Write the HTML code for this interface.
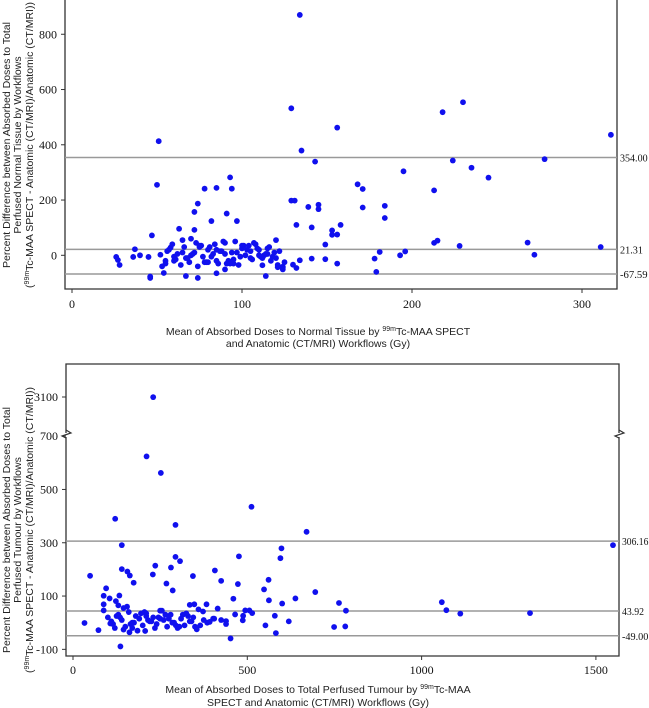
<!DOCTYPE html>
<html><head><meta charset="utf-8">
<style>
html,body{margin:0;padding:0;background:#fff;}
svg{display:block;}
.tk{font-family:"Liberation Serif",serif;font-size:12px;fill:#111;}
.rl{font-family:"Liberation Serif",serif;font-size:11px;fill:#111;}
.tt{font-family:"Liberation Sans",sans-serif;font-size:10.5px;fill:#222;}
</style></head>
<body>
<svg id="c" width="649" height="708" viewBox="0 0 649 708"></svg>
<script>
// ---------- Top chart data (Normal tissue) ----------
const topX = [134,129,230,218,156,51,317,135,143,224,278,235,195,245,93,50,168,171,78,85,94,213,129,131,145,145,184,139,171,74,72,91,184,82,97,132,158,141,63,72,153,153,156,47,268,213,215,149,311,228,181,196,193,272,178,179,156,149,114,74,46,46,67,85,54,124,124,121,90,132,130,134,141,112,26,28,27,36,37,40,45,
52,55,56,58,60,62,64,66,68,70,72,74,76,78,80,82,84,86,88,90,92,94,96,98,100,102,104,106,108,110,112,114,116,118,120,122,124,53,57,61,65,69,73,77,81,85,89,93,97,101,105,109,113,117,121,125,59,67,75,83,91,99,107,115,71,79,87,95,103,111,119,
55,60,65,70,75,80,85,90,95,100,105,110,115,120,125];
const topY = [870,532,554,518,462,413,436,379,339,343,348,317,304,281,282,255,257,240,241,244,241,235,198,198,183,167,179,175,173,187,157,151,135,124,124,110,110,101,96,92,90,74,75,72,46,45,53,39,30,34,12,14,0,2,-12,-60,-30,-14,-75,-82,-77,-82,-75,-65,-64,-51,-41,-43,-51,-46,-34,-18,-12,-36,-6,-35,-17,-6,22,0,-6,
2,-30,15,28,-20,5,-35,30,-10,60,10,-40,35,-25,20,-5,40,-30,15,45,-20,10,50,-35,25,0,35,-15,40,20,-10,5,30,-5,55,15,-45,-40,20,-15,10,-25,45,-5,30,-20,50,-30,10,35,-10,25,0,-20,-35,-25,40,-10,30,5,-30,-5,45,25,5,-25,15,-15,20,-5,
10,-20,-5,55,0,35,-25,20,5,-30,35,15,0,5,-10];
const topYTicks = [0,200,400,600,800];
const topXTicks = [0,100,200,300];
const topLines = [354.00,21.31,-67.59];
const topLineLabels = ["354.00","21.31","-67.59"];

// ---------- Bottom chart data (Tumour) ----------
const botX = [230,211,252,512,121,294,670,1549,140,598,476,294,595,307,236,281,140,156,163,49,344,229,407,174,561,425,268,473,548,286,695,95,133,88,105,638,460,562,123,763,600,1058,619,1071,1111,1311,783,781,749,582,452,136,162,107,33,73,145,207,335,88,88,348,383,465,487,488,439,439,392,402,373,415,506,514,494,579,552,
100,110,120,130,140,150,160,170,180,190,200,210,220,230,240,250,260,270,280,290,300,310,320,330,340,350,360,115,135,155,175,195,215,235,255,275,295,315,335,355,375,125,165,205,245,285,325,365,405,145,185,225,265,305,345,385,425,130,170,210,250,290];
const botY = [3090,624,562,435,390,367,341,291,291,279,249,247,242,231,214,207,201,192,177,176,175,181,196,150,161,157,147,145,125,121,115,129,102,101,91,91,90,84,81,74,72,77,5,47,34,36,45,-14,-16,-39,-59,-89,-36,-3,-1,-28,-26,-31,67,46,69,69,69,31,9,26,6,-5,3,15,42,53,46,36,46,26,
-10,20,5,-20,30,10,-15,40,0,25,15,-10,35,5,20,-5,45,10,-15,30,0,-20,15,-10,25,5,-15,50,-5,20,60,0,35,10,-20,45,15,-10,30,5,-25,10,25,-5,40,20,0,35,-10,15,55,-30,5,30,-15,20,0,10,65,-20,25,15];
const botYTicks = [-100,100,300,500,700];
const botYTicksHigh = [3100];
const botXTicks = [0,500,1000,1500];
const botLines = [306.16,43.92,-49.00];
const botLineLabels = ["306.16","43.92","-49.00"];

const NS="http://www.w3.org/2000/svg";
const svg=document.getElementById('c');
function mk(tag,attrs,parent){const e=document.createElementNS(NS,tag);for(const k in attrs)e.setAttribute(k,attrs[k]);(parent||svg).appendChild(e);return e;}

const tx=v=>72+v*1.70, ty=v=>255.3-v*0.2763;
const bx=v=>73+v*0.3486, by=v=>v<=700?(622.7-v*0.2665):(435-(v-700)*(38/2400));

// ===== TOP CHART =====
const g1=mk('g',{});


const f1=mk('path',{d:'M65,0 V289 H617 V0',fill:'none',stroke:'#333','stroke-width':1.3},g1);


topYTicks.forEach(v=>{
  const y=ty(v);
  const l=mk('line',{x1:61,x2:65,y1:y,y2:y,stroke:'#333'},g1);
  
  
  const t=mk('text',{x:57,y:y+4,'text-anchor':'end',class:'tk'},g1);t.textContent=v;
  
  
});
topXTicks.forEach(v=>{
  const x=tx(v);
  const l=mk('line',{x1:x,x2:x,y1:289,y2:293,stroke:'#333'},g1);
  
  
  const t=mk('text',{x:x,y:308,'text-anchor':'middle',class:'tk'},g1);t.textContent=v;
  
  
});
topLines.forEach((v,i)=>{
  const y=ty(v);
  const l=mk('line',{x1:65,x2:617,y1:y,y2:y,stroke:'#999','stroke-width':1.5},g1);
  
  
  const t=mk('text',{x:620,y:y+4,class:'rl',textLength:topLineLabels[i].length*4.6,lengthAdjust:'spacingAndGlyphs'},g1);t.textContent=topLineLabels[i];
  
  
});
const nTop=Math.min(topX.length,topY.length);
for(let i=0;i<nTop;i++){
  const c=mk('circle',{cx:tx(topX[i]),cy:ty(topY[i]),r:2.9,fill:'#1010ee'},g1);
  
  
}

// ===== BOTTOM CHART =====
const g2=mk('g',{});


const f2=mk('path',{d:'M66,437 V656 H619 V437 M619,433 V364 H66 V433',fill:'none',stroke:'#333','stroke-width':1.3},g2);


[66,619].forEach(x=>{
  const b=mk('path',{d:`M${x},430 l5,3 l-9,3 l4,2`,fill:'none',stroke:'#333','stroke-width':1.2},g2);
  
  
});
botYTicks.concat(botYTicksHigh).forEach(v=>{
  const y=by(v);
  const l=mk('line',{x1:62,x2:66,y1:y,y2:y,stroke:'#333'},g2);
  
  
  const t=mk('text',{x:58,y:y+4,'text-anchor':'end',class:'tk'},g2);t.textContent=v;
  
  
});
botXTicks.forEach(v=>{
  const x=bx(v);
  const l=mk('line',{x1:x,x2:x,y1:656,y2:660,stroke:'#333'},g2);
  
  
  const t=mk('text',{x:x,y:674,'text-anchor':'middle',class:'tk'},g2);t.textContent=v;
  
  
});
botLines.forEach((v,i)=>{
  const y=by(v);
  const l=mk('line',{x1:66,x2:619,y1:y,y2:y,stroke:'#999','stroke-width':1.5},g2);
  
  
  const t=mk('text',{x:622,y:y+4,class:'rl',textLength:botLineLabels[i].length*4.4,lengthAdjust:'spacingAndGlyphs'},g2);t.textContent=botLineLabels[i];
  
  
});
const nBot=Math.min(botX.length,botY.length);
for(let i=0;i<nBot;i++){
  const c=mk('circle',{cx:bx(botX[i]),cy:by(botY[i]),r:2.9,fill:'#1010ee'},g2);
  
  
}
</script>
<svg width="649" height="708" style="position:absolute;left:0;top:0">
 <g>
  <text x="318" y="335" text-anchor="middle" class="tt">Mean of Absorbed Doses to Normal Tissue by <tspan font-size="7" dy="-4">99m</tspan><tspan dy="4">Tc-MAA SPECT</tspan></text>
  <text x="318" y="347" text-anchor="middle" class="tt">and Anatomic (CT/MRI) Workflows (Gy)</text>
 </g>
 <g transform="translate(0,145) rotate(-90)">
  <text x="0" y="10" text-anchor="middle" class="tt">Percent Difference between Absorbed Doses to Total</text>
  <text x="0" y="21" text-anchor="middle" class="tt">Perfused Normal Tissue by Workflows</text>
  <text x="0" y="33" text-anchor="middle" class="tt">(<tspan font-size="7" dy="-4">99m</tspan><tspan dy="4">Tc-MAA SPECT - Anatomic (CT/MRI)/Anatomic (CT/MRI))</tspan></text>
 </g>
 <g>
  <text x="318" y="693" text-anchor="middle" class="tt">Mean of Absorbed Doses to Total Perfused Tumour by <tspan font-size="7" dy="-4">99m</tspan><tspan dy="4">Tc-MAA</tspan></text>
  <text x="318" y="706" text-anchor="middle" class="tt">SPECT and Anatomic (CT/MRI) Workflows (Gy)</text>
 </g>
 <g transform="translate(0,530) rotate(-90)">
  <text x="0" y="10" text-anchor="middle" class="tt">Percent Difference between Absorbed Doses to Total</text>
  <text x="0" y="21" text-anchor="middle" class="tt">Perfused Tumour by Workflows</text>
  <text x="0" y="33" text-anchor="middle" class="tt">(<tspan font-size="7" dy="-4">99m</tspan><tspan dy="4">Tc-MAA SPECT - Anatomic (CT/MRI)/Anatomic (CT/MRI))</tspan></text>
 </g>
</svg>
</body></html>
